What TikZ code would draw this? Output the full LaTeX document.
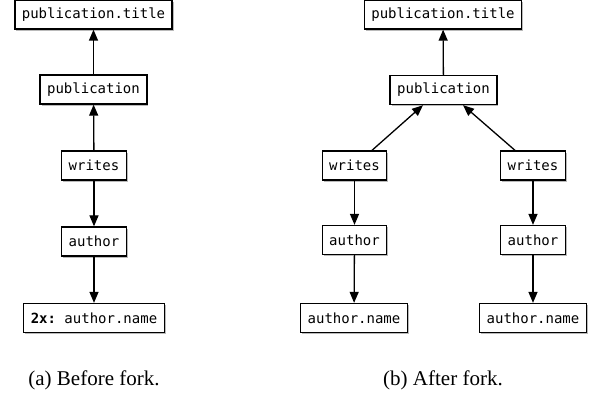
\documentclass[tikz,border=0pt]{standalone}
\usepackage{fontspec}
\setmainfont{Liberation Serif}
\setmonofont{DejaVu Sans Mono}
\usetikzlibrary{shadows,arrows.meta}
\begin{document}
\begin{tikzpicture}[x=1pt,y=-1pt,
  box/.style={draw, line width=1.3pt, fill=white, font=\ttfamily\fontsize{14}{16}\selectfont,
    minimum height=29pt, inner xsep=7pt, inner ysep=0pt,
    drop shadow={shadow xshift=1.5pt, shadow yshift=-2pt, fill=black!45, opacity=0.6}},
  arr/.style={line width=1.3pt, -{Triangle[length=11pt,width=9pt]}},
  captxt/.style={font=\fontsize{21}{24}\selectfont}]
\useasboundingbox (0,0) rectangle (595,398);
% (a)
\node[box] (aT) at (93.5,14.5) {publication.title};
\node[box] (aP) at (93.5,89.5) {publication};
\node[box] (aW) at (94,165.5) {writes};
\node[box] (aA) at (94,241.5) {author};
\node[box] (aN) at (94,318) {\textbf{2x:} author.name};
\draw[arr] (aP) -- (aT);
\draw[arr] (aW) -- (aP);
\draw[arr] (aW) -- (aA);
\draw[arr] (aA) -- (aN);
\node[captxt] (capa) at (94,380) {(a) Before fork.};
% (b)
\node[box] (bT) at (443,14.5) {publication.title};
\node[box] (bP) at (443.5,90) {publication};
\node[box] (bW1) at (354.5,165.5) {writes};
\node[box] (bW2) at (533,165.5) {writes};
\node[box] (bA1) at (354.5,240) {author};
\node[box] (bA2) at (533,240) {author};
\node[box] (bN1) at (354,318) {author.name};
\node[box] (bN2) at (533,318) {author.name};
\draw[arr] (bP) -- (bT);
\draw[arr] ([xshift=17.5pt]bW1.north) -- ([xshift=-20.5pt]bP.south);
\draw[arr] ([xshift=-18pt]bW2.north) -- ([xshift=19.5pt]bP.south);
\draw[arr] (bW1) -- (bA1);
\draw[arr] (bW2) -- (bA2);
\draw[arr] (bA1) -- (bN1);
\draw[arr] (bA2) -- (bN2);
\node[captxt] (capb) at (443,380) {(b) After fork.};
\end{tikzpicture}
\end{document}
